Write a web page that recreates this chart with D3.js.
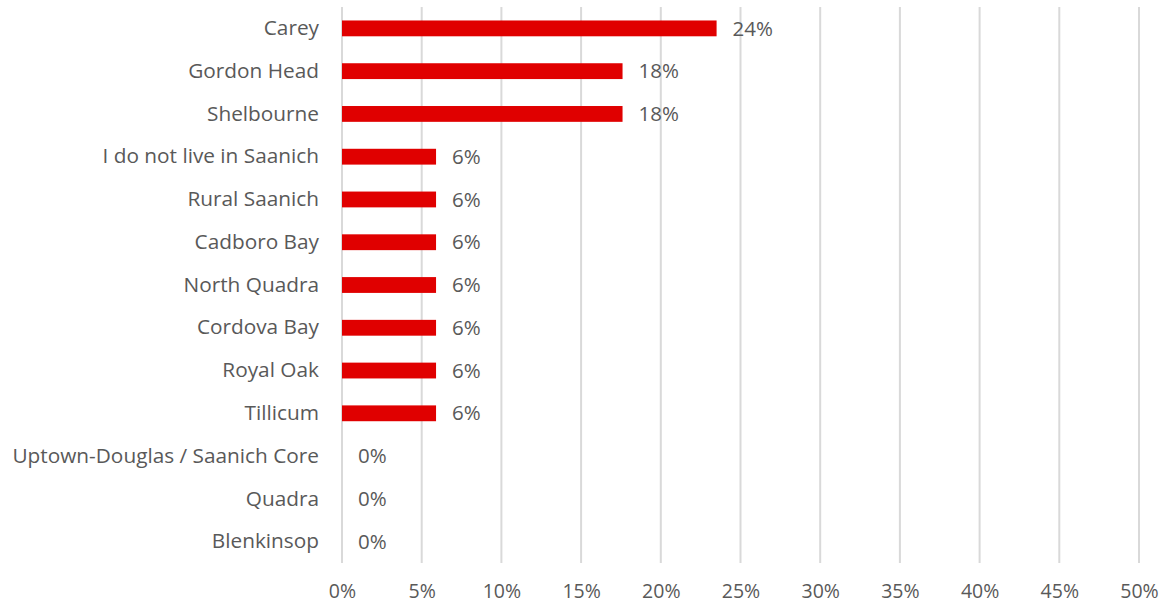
<!DOCTYPE html>
<html>
<head>
<meta charset="utf-8">
<script src="https://cdn.jsdelivr.net/npm/d3@7"></script>
<style>
  body { margin: 0; background: #fff; }
  svg text { font-family: "Open Sans", sans-serif; fill: #595959; }
</style>
</head>
<body>
<svg id="Vis" width="1167" height="606"></svg>
<script>
const categories = ["Carey", "Gordon Head", "Shelbourne", "I do not live in Saanich",
  "Rural Saanich", "Cadboro Bay", "North Quadra", "Cordova Bay", "Royal Oak",
  "Tillicum", "Uptown-Douglas / Saanich Core", "Quadra", "Blenkinsop"];
const values = [23.5, 17.6, 17.6, 5.9, 5.9, 5.9, 5.9, 5.9, 5.9, 5.9, 0, 0, 0];
const valueLabels = ["24%", "18%", "18%", "6%", "6%", "6%", "6%", "6%", "6%", "6%", "0%", "0%", "0%"];
const xTicks = [0, 5, 10, 15, 20, 25, 30, 35, 40, 45, 50];

const margin = { top: 7, bottom: 43, left: 342, right: 28 };

const svg = d3.select("svg#Vis");
const width = 1167 - margin.left - margin.right;
const height = 606 - margin.top - margin.bottom;

const plot = svg.append("g")
  .attr("transform", "translate(" + margin.left + "," + margin.top + ")");

const data = categories.map((c, i) => ({ name: c, value: values[i], label: valueLabels[i] }));

/* SCALES */
const xScale = d3.scaleLinear().domain([0, 50]).range([0, width]);
const yScale = d3.scaleBand().domain(categories).range([0, height]).paddingInner(0.63).paddingOuter(0.315);

/* GRIDLINES */
plot.append("g").selectAll("line")
  .data(xTicks)
  .enter()
  .append("line")
    .attr("x1", d => xScale(d))
    .attr("x2", d => xScale(d))
    .attr("y1", 0)
    .attr("y2", height)
    .attr("stroke", "#d9d9d9")
    .attr("stroke-width", 2);

/* X AXIS */
const xAxis = d3.axisBottom(xScale).tickValues(xTicks).tickFormat(d => d + "%").tickSize(0).tickPadding(21);
const xGroup = plot.append("g").attr("transform", "translate(0," + height + ")").call(xAxis);
xGroup.select(".domain").remove();
xGroup.selectAll("text").style("font-size", "19.5px").attr("fill", "#595959");

/* Y AXIS */
const yAxis = d3.axisLeft(yScale).tickSize(0).tickPadding(23);
const yGroup = plot.append("g").call(yAxis);
yGroup.select(".domain").remove();
yGroup.selectAll("text").style("font-size", "20.8px").attr("fill", "#595959");

/* BARS */
plot.append("g").selectAll("rect")
  .data(data)
  .enter()
  .append("rect")
    .attr("x", xScale(0))
    .attr("y", d => yScale(d.name))
    .attr("width", d => xScale(d.value) - xScale(0))
    .attr("height", yScale.bandwidth())
    .attr("fill", "#e00000");

/* VALUE LABELS */
plot.append("g").selectAll("text")
  .data(data)
  .enter()
  .append("text")
    .attr("x", d => xScale(d.value) + 16)
    .attr("y", d => yScale(d.name) + yScale.bandwidth() / 2)
    .attr("dy", "0.35em")
    .style("font-size", "20.5px")
    .text(d => d.label);
</script>
</body>
</html>
